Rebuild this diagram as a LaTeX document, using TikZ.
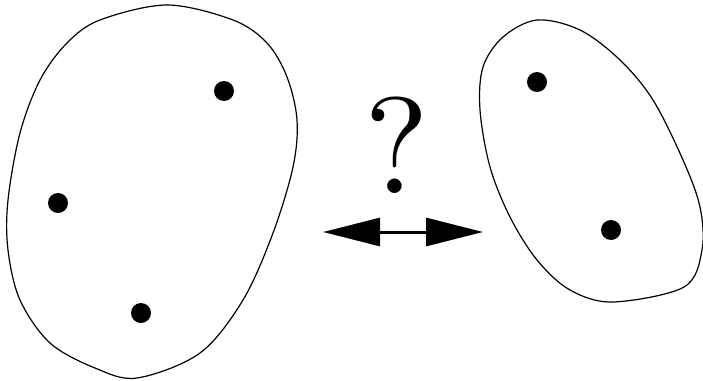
\documentclass[tikz,border=0pt]{standalone}
\usepackage{tikz}
\usetikzlibrary{arrows.meta}

\begin{document}
\begin{tikzpicture}[x=1pt,y=1pt,
    blob/.style={draw=black,line width=1.2pt,smooth cycle,tension=0.55},
    pt/.style={circle,fill=black,minimum size=20pt,inner sep=0pt,outer sep=0pt},
    twoway/.style={{Triangle[length=57pt,width=28pt]}-{Triangle[length=57pt,width=28pt]},line width=3pt}]

\useasboundingbox (0,0) rectangle (703,-380);

% ======================= left set =====================================================
\draw[blob] plot coordinates {(167,-5) (233,-20) (267,-43) (287,-77) (297,-120)
  (293,-167) (273,-233) (243,-300) (200,-353) (137,-378) (95,-368) (50,-343)
  (20,-300) (8,-250) (8,-200) (20,-133) (40,-80) (67,-43) (100,-20)};
\node[pt] (a1) at (224,-91)  {};
\node[pt] (a2) at (58,-203)  {};
\node[pt] (a3) at (141,-313) {};

% ======================= right set ====================================================
\draw[blob] plot coordinates {(537,-20) (580,-30) (620,-60) (653,-100) (683,-160)
  (700,-207) (702,-250) (684,-287) (613,-302) (570,-290) (537,-260) (510,-217)
  (490,-167) (480,-110) (483,-67) (503,-37)};
\node[pt] (b1) at (537,-82)  {};
\node[pt] (b2) at (611,-230) {};

% ======================= question and arrow ===========================================
\node[inner sep=0pt,scale=13.7] (q) at (397,-145) {?};
\coordinate (arrL) at (323,-232);
\coordinate (arrR) at (483,-232);
\draw[twoway] (arrL) -- (arrR);

\end{tikzpicture}
\end{document}
